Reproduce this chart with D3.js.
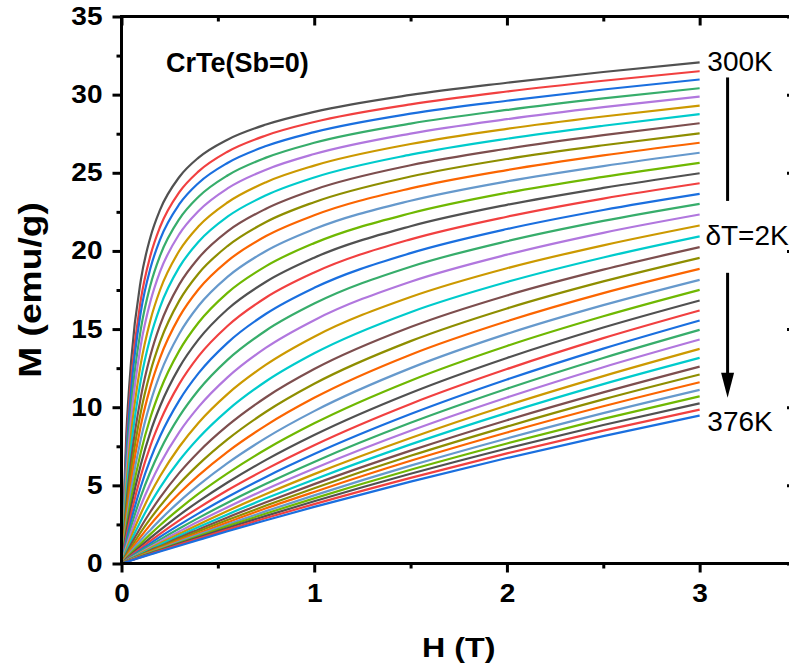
<!DOCTYPE html>
<html>
<head>
<meta charset="utf-8">
<script src="https://cdn.jsdelivr.net/npm/d3@7"></script>
<style>
  html, body { margin: 0; padding: 0; background: #fff; overflow: hidden; }
  svg { display: block; }
  .lbl { font-family: "Liberation Sans", Arial, sans-serif; }
</style>
</head>
<body>
<svg id="chart" width="789" height="671"></svg>
<script>
// Applied field grid (T) shared by every isotherm
const fieldT = [0, 0.025, 0.05, 0.1, 0.15, 0.2, 0.3, 0.4, 0.55, 0.75, 1, 1.5, 2, 2.5, 3];

// Isotherm temperatures (K), 300 K to 376 K in 2 K steps
const temperatures = [300, 302, 304, 306, 308, 310, 312, 314, 316, 318, 320, 322, 324,
  326, 328, 330, 332, 334, 336, 338, 340, 342, 344, 346, 348, 350, 352, 354, 356, 358,
  360, 362, 364, 366, 368, 370, 372, 374, 376];

// Magnetization M (emu/g) of each isotherm on the field grid
const magnetization = [
  [0, 8.28, 12.97, 18.11, 20.88, 22.63, 24.73, 25.97, 27.12, 28.09, 28.9, 29.98, 30.76, 31.45, 32.07],
  [0, 7.36, 11.79, 16.86, 19.7, 21.53, 23.76, 25.09, 26.35, 27.39, 28.25, 29.38, 30.2, 30.89, 31.5],
  [0, 6.86, 11.1, 16.07, 18.89, 20.73, 22.99, 24.35, 25.63, 26.71, 27.6, 28.78, 29.61, 30.33, 30.97],
  [0, 6.16, 10.14, 14.97, 17.81, 19.69, 22.04, 23.47, 24.83, 25.97, 26.92, 28.15, 29.02, 29.76, 30.41],
  [0, 5.57, 9.28, 13.95, 16.76, 18.67, 21.08, 22.56, 24.0, 25.2, 26.2, 27.51, 28.43, 29.2, 29.88],
  [0, 4.9, 8.31, 12.77, 15.57, 17.5, 20.01, 21.58, 23.1, 24.4, 25.46, 26.84, 27.81, 28.6, 29.3],
  [0, 4.34, 7.48, 11.72, 14.48, 16.41, 18.96, 20.59, 22.19, 23.56, 24.7, 26.16, 27.18, 28.01, 28.75],
  [0, 3.79, 6.63, 10.63, 13.31, 15.25, 17.86, 19.55, 21.25, 22.7, 23.92, 25.48, 26.54, 27.41, 28.17],
  [0, 3.35, 5.93, 9.68, 12.27, 14.18, 16.82, 18.56, 20.31, 21.85, 23.12, 24.76, 25.88, 26.76, 27.53],
  [0, 2.97, 5.31, 8.81, 11.3, 13.16, 15.78, 17.55, 19.35, 20.95, 22.28, 24.0, 25.17, 26.11, 26.92],
  [0, 2.6, 4.71, 7.95, 10.31, 12.12, 14.7, 16.49, 18.34, 20.0, 21.4, 23.21, 24.45, 25.43, 26.28],
  [0, 2.27, 4.15, 7.11, 9.34, 11.07, 13.62, 15.42, 17.32, 19.03, 20.5, 22.41, 23.72, 24.74, 25.64],
  [0, 1.97, 3.64, 6.32, 8.41, 10.06, 12.55, 14.34, 16.27, 18.03, 19.57, 21.58, 22.95, 24.03, 24.97],
  [0, 1.7, 3.17, 5.6, 7.53, 9.09, 11.49, 13.27, 15.2, 17.02, 18.62, 20.74, 22.19, 23.35, 24.33],
  [0, 1.46, 2.74, 4.91, 6.68, 8.14, 10.44, 12.18, 14.12, 15.98, 17.64, 19.86, 21.4, 22.62, 23.65],
  [0, 1.24, 2.35, 4.28, 5.87, 7.23, 9.41, 11.1, 13.03, 14.91, 16.63, 18.99, 20.62, 21.92, 23.01],
  [0, 1.05, 2.01, 3.7, 5.12, 6.36, 8.41, 10.02, 11.91, 13.81, 15.57, 18.03, 19.76, 21.16, 22.33],
  [0, 0.89, 1.71, 3.18, 4.46, 5.58, 7.47, 9.01, 10.84, 12.72, 14.51, 17.05, 18.89, 20.36, 21.63],
  [0, 0.75, 1.45, 2.72, 3.85, 4.86, 6.59, 8.03, 9.8, 11.66, 13.45, 16.08, 18.01, 19.58, 20.93],
  [0, 0.63, 1.23, 2.32, 3.31, 4.21, 5.8, 7.14, 8.82, 10.64, 12.44, 15.13, 17.15, 18.8, 20.24],
  [0, 0.53, 1.04, 2.0, 2.87, 3.67, 5.1, 6.34, 7.94, 9.71, 11.5, 14.23, 16.32, 18.05, 19.56],
  [0, 0.45, 0.9, 1.72, 2.49, 3.2, 4.49, 5.64, 7.15, 8.84, 10.6, 13.36, 15.5, 17.3, 18.85],
  [0, 0.38, 0.77, 1.49, 2.15, 2.79, 3.96, 5.01, 6.42, 8.04, 9.75, 12.5, 14.69, 16.53, 18.15],
  [0, 0.34, 0.66, 1.28, 1.88, 2.45, 3.5, 4.47, 5.77, 7.31, 8.97, 11.7, 13.92, 15.82, 17.51],
  [0, 0.29, 0.57, 1.12, 1.64, 2.14, 3.1, 3.97, 5.18, 6.63, 8.22, 10.91, 13.15, 15.1, 16.83],
  [0, 0.25, 0.5, 0.98, 1.45, 1.9, 2.76, 3.56, 4.69, 6.04, 7.57, 10.21, 12.44, 14.42, 16.19],
  [0, 0.22, 0.44, 0.87, 1.29, 1.7, 2.47, 3.21, 4.25, 5.54, 7.0, 9.56, 11.77, 13.75, 15.55],
  [0, 0.2, 0.4, 0.79, 1.16, 1.53, 2.24, 2.92, 3.89, 5.1, 6.5, 9.0, 11.18, 13.15, 14.95],
  [0, 0.18, 0.36, 0.71, 1.06, 1.4, 2.05, 2.69, 3.6, 4.75, 6.08, 8.49, 10.62, 12.56, 14.33],
  [0, 0.17, 0.33, 0.65, 0.98, 1.29, 1.9, 2.5, 3.36, 4.45, 5.72, 8.03, 10.11, 11.99, 13.73],
  [0, 0.15, 0.31, 0.61, 0.9, 1.2, 1.77, 2.33, 3.14, 4.17, 5.38, 7.62, 9.64, 11.48, 13.16],
  [0, 0.15, 0.29, 0.56, 0.85, 1.11, 1.66, 2.18, 2.95, 3.92, 5.08, 7.22, 9.17, 10.95, 12.6],
  [0, 0.13, 0.26, 0.54, 0.79, 1.05, 1.56, 2.06, 2.78, 3.71, 4.82, 6.89, 8.76, 10.5, 12.09],
  [0, 0.13, 0.25, 0.51, 0.75, 0.99, 1.48, 1.94, 2.63, 3.53, 4.58, 6.57, 8.38, 10.06, 11.6],
  [0, 0.12, 0.24, 0.47, 0.71, 0.94, 1.4, 1.85, 2.5, 3.35, 4.36, 6.26, 8.0, 9.62, 11.11],
  [0, 0.12, 0.22, 0.46, 0.68, 0.9, 1.33, 1.76, 2.39, 3.2, 4.17, 6.0, 7.68, 9.25, 10.7],
  [0, 0.11, 0.21, 0.43, 0.64, 0.85, 1.27, 1.68, 2.27, 3.05, 3.98, 5.74, 7.36, 8.86, 10.25],
  [0, 0.1, 0.21, 0.41, 0.61, 0.81, 1.21, 1.6, 2.17, 2.91, 3.8, 5.48, 7.05, 8.5, 9.85],
  [0, 0.1, 0.19, 0.39, 0.58, 0.77, 1.14, 1.51, 2.06, 2.77, 3.62, 5.24, 6.75, 8.15, 9.47]
];

// Axis ticks
const xMajor = [0, 1, 2, 3];
const xMinor = [0.5, 1.5, 2.5, 3.5];
const yMajor = [0, 5, 10, 15, 20, 25, 30, 35];
const yMinor = [2.5, 7.5, 12.5, 17.5, 22.5, 27.5, 32.5];

// Line colour cycle
const palette = ["#515151", "#F14040", "#1A6FDF", "#37AD6B", "#B177DE", "#CC9900",
  "#00CBCC", "#7D4E4E", "#8E8E00", "#FB6501", "#6699CC", "#6FB802"];

const svg = d3.select("#chart");
const plotLeft = 121.5, plotRight = 796, plotTop = 16.5, plotBottom = 563.5;

const x = d3.scaleLinear().domain([0, 3.5]).range([plotLeft, plotRight]);
const y = d3.scaleLinear().domain([0, 35]).range([plotBottom, plotTop]);

// Widen bold labels horizontally by a factor k
function widen(sel, k) {
  sel.each(function () {
    const w = this.getComputedTextLength();
    d3.select(this).attr("textLength", w * k).attr("lengthAdjust", "spacingAndGlyphs");
  });
}

// Isotherms
const line = d3.line()
  .x((d, i) => x(fieldT[i]))
  .y(d => y(d))
  .curve(d3.curveMonotoneX);

svg.append("g")
  .selectAll("path")
  .data(magnetization)
  .join("path")
  .attr("d", d => line(d))
  .attr("fill", "none")
  .attr("stroke", (d, i) => palette[i % palette.length])
  .attr("stroke-width", 2.2)
  .attr("stroke-linejoin", "round");

// Frame and ticks
function styleAxis(g) {
  g.select(".domain").remove();
  g.selectAll("line").attr("stroke", "#000").attr("stroke-width", 3);
  g.selectAll("text")
    .attr("class", "lbl")
    .attr("font-size", 25)
    .attr("font-weight", "bold")
    .attr("fill", "#000")
    .call(widen, 1.12);
}

const axes = svg.append("g");

// bottom (outward, labelled)
axes.append("g").attr("transform", `translate(0,${plotBottom})`)
  .call(d3.axisBottom(x).tickValues(xMajor).tickSize(9).tickPadding(12).tickFormat(d3.format("d")))
  .call(styleAxis);
axes.append("g").attr("transform", `translate(0,${plotBottom})`)
  .call(d3.axisBottom(x).tickValues(xMinor).tickSize(5).tickFormat(""))
  .call(styleAxis);

// left (outward, labelled)
axes.append("g").attr("transform", `translate(${plotLeft},0)`)
  .call(d3.axisLeft(y).tickValues(yMajor).tickSize(9).tickPadding(10).tickFormat(d3.format("d")))
  .call(styleAxis);
axes.append("g").attr("transform", `translate(${plotLeft},0)`)
  .call(d3.axisLeft(y).tickValues(yMinor).tickSize(5).tickFormat(""))
  .call(styleAxis);

// top (inward)
axes.append("g").attr("transform", `translate(0,${plotTop})`)
  .call(d3.axisBottom(x).tickValues(xMajor).tickSize(9).tickFormat(""))
  .call(styleAxis);
axes.append("g").attr("transform", `translate(0,${plotTop})`)
  .call(d3.axisBottom(x).tickValues(xMinor).tickSize(5).tickFormat(""))
  .call(styleAxis);

// right (inward)
axes.append("g").attr("transform", `translate(${plotRight},0)`)
  .call(d3.axisLeft(y).tickValues(yMajor).tickSize(9).tickFormat(""))
  .call(styleAxis);
axes.append("g").attr("transform", `translate(${plotRight},0)`)
  .call(d3.axisLeft(y).tickValues(yMinor).tickSize(5).tickFormat(""))
  .call(styleAxis);

// frame lines
axes.append("rect")
  .attr("x", plotLeft).attr("y", plotTop)
  .attr("width", plotRight - plotLeft).attr("height", plotBottom - plotTop)
  .attr("fill", "none").attr("stroke", "#000").attr("stroke-width", 3);

// Axis titles
svg.append("text")
  .attr("class", "lbl")
  .attr("x", (plotLeft + plotRight) / 2).attr("y", 657)
  .attr("text-anchor", "middle")
  .attr("font-size", 28).attr("font-weight", "bold")
  .text("H (T)")
  .call(widen, 1.15);

svg.append("text")
  .attr("class", "lbl")
  .attr("transform", `translate(41,${(plotTop + plotBottom) / 2}) rotate(-90)`)
  .attr("text-anchor", "middle")
  .attr("font-size", 31).attr("font-weight", "bold")
  .text("M (emu/g)")
  .call(widen, 1.2);

// Sample label
svg.append("text")
  .attr("class", "lbl")
  .attr("x", 166).attr("y", 72)
  .attr("font-size", 27).attr("font-weight", "bold")
  .text("CrTe(Sb=0)");

// Temperature annotations
const annot = svg.append("g").attr("class", "lbl").attr("font-size", 28);
annot.append("text").attr("x", x(3.04)).attr("y", y(31.5)).text(temperatures[0] + "K");
annot.append("text").attr("x", x(3.03)).attr("y", y(20.35)).text("\u03B4T=2K");
annot.append("text").attr("x", x(3.04)).attr("y", y(8.5)).text(temperatures[temperatures.length - 1] + "K");

// Arrow showing increasing temperature
const ax = x(3.145);
svg.append("line")
  .attr("x1", ax).attr("x2", ax).attr("y1", y(31.1)).attr("y2", y(23.2))
  .attr("stroke", "#000").attr("stroke-width", 3);
svg.append("line")
  .attr("x1", ax).attr("x2", ax).attr("y1", y(18.6)).attr("y2", y(12))
  .attr("stroke", "#000").attr("stroke-width", 3);
svg.append("path")
  .attr("d", d3.line()([[ax - 6.5, y(12.2)], [ax + 6.5, y(12.2)], [ax, y(10.6)]]) + "Z")
  .attr("fill", "#000");
</script>
</body>
</html>
